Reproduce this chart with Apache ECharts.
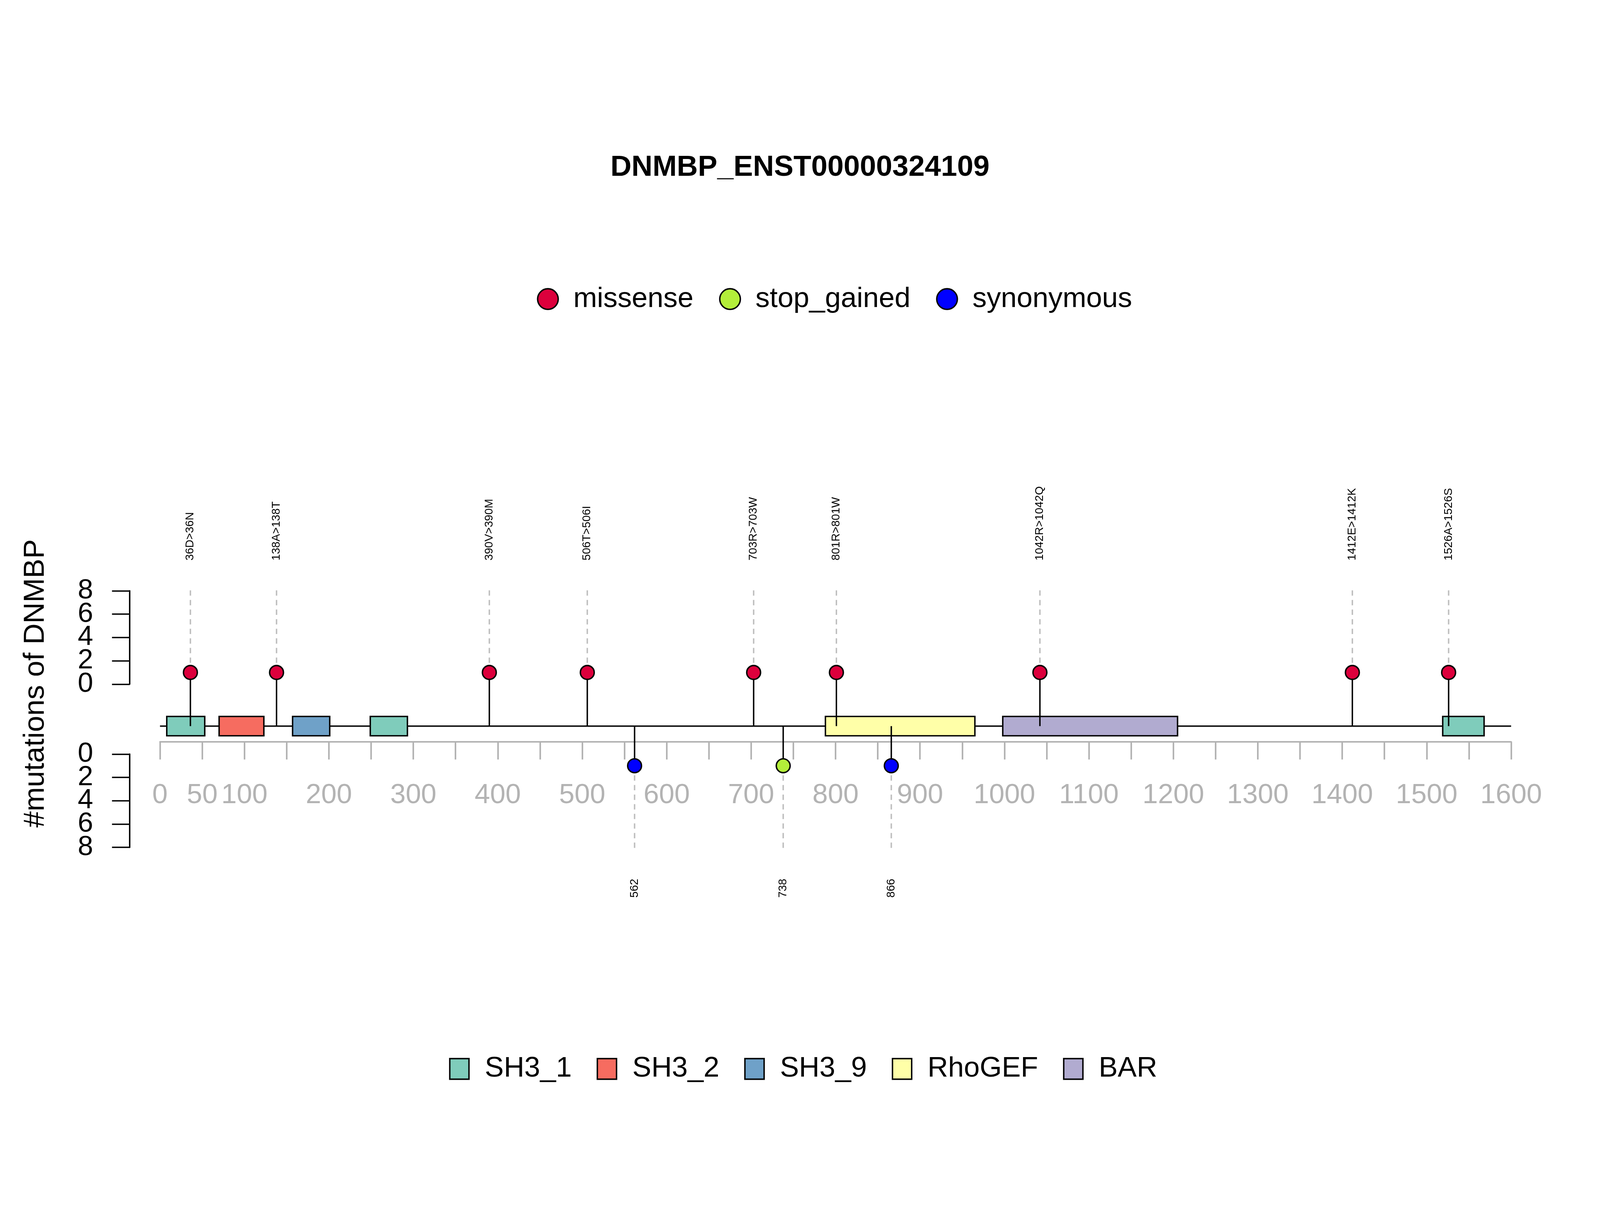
<!DOCTYPE html>
<html lang="en">
<head>
<meta charset="UTF-8">
<title>DNMBP_ENST00000324109</title>
<style>html, body { margin: 0; padding: 0; background: #fff; overflow: hidden; }</style>
</head>
<body>
<div id="main"></div>
<script src="https://cdn.jsdelivr.net/npm/echarts@6.0.0/dist/echarts.min.js"></script>
<script>
// mutations (amino-acid position, type, side of the track, count, label)
var mutPositions = [36, 138, 390, 506, 562, 703, 738, 801, 866, 1042, 1412, 1526];
var mutTypes = ['missense', 'missense', 'missense', 'missense', 'synonymous', 'missense',
    'stop_gained', 'missense', 'synonymous', 'missense', 'missense', 'missense'];
var mutSides = ['top', 'top', 'top', 'top', 'bottom', 'top', 'bottom', 'top', 'bottom', 'top', 'top', 'top'];
var mutCounts = [1, 1, 1, 1, 1, 1, 1, 1, 1, 1, 1, 1];
var mutLabels = ['36D>36N', '138A>138T', '390V>390M', '506T>506I', '562', '703R>703W',
    '738', '801R>801W', '866', '1042R>1042Q', '1412E>1412K', '1526A>1526S'];

// protein domains
var domainNames = ['SH3_1', 'SH3_2', 'SH3_9', 'SH3_1', 'RhoGEF', 'BAR', 'SH3_1'];
var domainStarts = [8, 70, 157, 249, 788, 998, 1519];
var domainEnds = [53, 123, 201, 293, 965, 1205, 1568];
var domainOrder = ['SH3_1', 'SH3_2', 'SH3_9', 'RhoGEF', 'BAR'];
var mutTypeOrder = ['missense', 'stop_gained', 'synonymous'];

// axes
var xMax = 1600;
var xTickLabels = [0, 50, 100, 200, 300, 400, 500, 600, 700, 800, 900, 1000, 1100, 1200, 1300, 1400, 1500, 1600];
var yTickLabels = [0, 2, 4, 6, 8];

var typeColors = { missense: '#DC003C', stop_gained: '#B3EE3A', synonymous: '#0000FF' };
var domainColors = { SH3_1: '#7FCCBB', SH3_2: '#F66C60', SH3_9: '#6FA1C8', RhoGEF: '#FFFFA8', BAR: '#B1ABD0' };

// track layout, in "mutation count" units of the y scale
var BACKBONE = -3.6;
var BOX_HALF = 0.83;
var BOTTOM_ZERO = -6;
var DASH_LEN = 8.3;
var LABEL_TOP = 10.6;
var LABEL_BOTTOM = -17.5;
var Y_MIN = -20, Y_MAX = 12;

// everything below is laid out on a 4500 px wide page, scaled to the real window
var S = window.innerWidth / 4500;
function px(v) { return v * S; }

var UNIT = px(32.8);      // px per count
var ZERO_Y = px(1924);    // pixel row of the upper axis 0
var FONT = 'Liberation Sans';
var LEFT = px(450), WIDTH = px(3800);

var el = document.getElementById('main');
el.style.width = window.innerWidth + 'px';
el.style.height = window.innerHeight + 'px';

function tipOf(i) {
    return mutSides[i] === 'top' ? mutCounts[i] : BOTTOM_ZERO - mutCounts[i];
}

var chart = echarts.init(el);

var series = [];

// backbone
series.push({
    type: 'line', xAxisIndex: 0, yAxisIndex: 0, silent: true, z: 2,
    symbol: 'none',
    lineStyle: { color: '#000', width: px(4) },
    data: [[0, BACKBONE], [xMax, BACKBONE]]
});

// domains
domainOrder.forEach(function (name) {
    var rows = [];
    for (var i = 0; i < domainNames.length; i++) {
        if (domainNames[i] === name) rows.push([domainStarts[i], domainEnds[i]]);
    }
    series.push({
        name: name, type: 'custom', xAxisIndex: 0, yAxisIndex: 0, z: 3,
        itemStyle: { color: domainColors[name], borderColor: '#000', borderWidth: px(4) },
        encode: { x: [0, 1] },
        data: rows,
        renderItem: function (params, api) {
            var p0 = api.coord([api.value(0), BACKBONE + BOX_HALF]);
            var p1 = api.coord([api.value(1), BACKBONE - BOX_HALF]);
            return {
                type: 'rect',
                shape: { x: p0[0], y: p0[1], width: p1[0] - p0[0], height: p1[1] - p0[1] },
                style: { fill: domainColors[name], stroke: '#000', lineWidth: px(4) }
            };
        }
    });
});

// dashed guides and stems
var guideRows = [], stemRows = [];
for (var i = 0; i < mutPositions.length; i++) {
    var tip = tipOf(i);
    var end = mutSides[i] === 'top' ? DASH_LEN : BOTTOM_ZERO - DASH_LEN;
    guideRows.push([mutPositions[i], tip, end]);
    stemRows.push([mutPositions[i], BACKBONE, tip]);
}

function vLine(dash, color, z, rows) {
    return {
        type: 'custom', xAxisIndex: 0, yAxisIndex: 0, z: z, silent: true,
        data: rows,
        renderItem: function (params, api) {
            var a = api.coord([api.value(0), api.value(1)]);
            var b = api.coord([api.value(0), api.value(2)]);
            return {
                type: 'line',
                shape: { x1: a[0], y1: a[1], x2: b[0], y2: b[1] },
                style: { stroke: color, lineWidth: px(4), lineDash: dash }
            };
        }
    };
}
series.push(vLine([px(15), px(12)], '#BEBEBE', 4, guideRows));
series.push(vLine(null, '#000', 5, stemRows));

// lollipop heads
mutTypeOrder.forEach(function (t) {
    var pts = [];
    for (var i = 0; i < mutPositions.length; i++) {
        if (mutTypes[i] === t) pts.push([mutPositions[i], tipOf(i)]);
    }
    series.push({
        name: t, type: 'scatter', xAxisIndex: 0, yAxisIndex: 0, z: 6,
        symbol: 'circle', symbolSize: px(39),
        itemStyle: { color: typeColors[t], borderColor: '#000', borderWidth: px(4), opacity: 1 },
        data: pts
    });
});

// mutation labels
var labelRows = [];
for (var i = 0; i < mutPositions.length; i++) {
    labelRows.push([mutPositions[i], mutSides[i] === 'top' ? LABEL_TOP : LABEL_BOTTOM, i]);
}
series.push({
    type: 'custom', xAxisIndex: 0, yAxisIndex: 0, z: 6, silent: true,
    data: labelRows,
    renderItem: function (params, api) {
        var i = api.value(2);
        var p = api.coord([api.value(0), api.value(1)]);
        return {
            type: 'text', x: p[0], y: p[1], rotation: Math.PI / 2,
            style: {
                text: mutLabels[i], fontSize: px(32), fontFamily: FONT, fill: '#000',
                align: mutSides[i] === 'top' ? 'left' : 'center', verticalAlign: 'middle'
            }
        };
    }
});

// count-axis tick labels (the R plot lets them touch, so draw them without overlap hiding)
[2, 3].forEach(function (g) {
    series.push({
        type: 'custom', xAxisIndex: g, yAxisIndex: g, z: 6, silent: true,
        data: yTickLabels.map(function (v) { return [0, v]; }),
        renderItem: function (params, api) {
            var p = api.coord([0, api.value(1)]);
            return {
                type: 'text', x: p[0] - px(103), y: p[1],
                style: {
                    text: String(api.value(1)), fontSize: px(78), fontFamily: FONT, fill: '#000',
                    align: 'right', verticalAlign: 'middle'
                }
            };
        }
    });
});

var labelSet = {};
xTickLabels.forEach(function (v) { labelSet[v] = true; });

function countAxis(gridIndex, inverse) {
    return {
        gridIndex: gridIndex, type: 'value', min: 0, max: 8, interval: 2, inverse: inverse,
        axisLine: { show: true, lineStyle: { color: '#000', width: px(4) } },
        axisTick: {
            show: true, inside: false, length: px(50), customValues: yTickLabels,
            lineStyle: { color: '#000', width: px(4) }
        },
        axisLabel: { show: false },
        splitLine: { show: false }
    };
}

chart.setOption({
    animation: false,
    backgroundColor: '#fff',
    textStyle: { fontFamily: FONT },
    title: {
        text: 'DNMBP_ENST00000324109',
        left: 'center', top: px(425),
        textStyle: { fontSize: px(82), fontWeight: 'bold', color: '#000', fontFamily: FONT, lineHeight: px(82) }
    },
    legend: [{
        data: mutTypeOrder,
        left: px(1510), top: px(801), padding: 0,
        icon: 'circle', itemWidth: px(58), itemHeight: px(58), itemGap: px(72),
        selectedMode: false,
        itemStyle: { borderColor: '#000', borderWidth: px(4) },
        textStyle: { fontSize: px(80), color: '#000', fontFamily: FONT, padding: [0, 0, 0, px(37)] }
    }, {
        data: domainOrder,
        left: px(1263), top: px(2966), padding: 0,
        icon: 'rect', itemWidth: px(54), itemHeight: px(58), itemGap: px(70),
        selectedMode: false,
        itemStyle: { borderColor: '#000', borderWidth: px(4) },
        textStyle: { fontSize: px(80), color: '#000', fontFamily: FONT, padding: [0, 0, 0, px(39)] }
    }],
    graphic: [{
        type: 'text', x: px(100), y: px(1922), rotation: Math.PI / 2,
        style: {
            text: '#mutations of DNMBP', fontSize: px(82), fontFamily: FONT, fill: '#000',
            align: 'center', verticalAlign: 'middle'
        }
    }],
    grid: [
        { left: LEFT, width: WIDTH, top: ZERO_Y - Y_MAX * UNIT, height: (Y_MAX - Y_MIN) * UNIT },
        { left: LEFT, width: WIDTH, top: px(2085), height: px(1) },
        { left: px(365), width: px(80), top: ZERO_Y - 8 * UNIT, height: 8 * UNIT },
        { left: px(365), width: px(80), top: ZERO_Y - BOTTOM_ZERO * UNIT, height: 8 * UNIT }
    ],
    xAxis: [
        { gridIndex: 0, type: 'value', min: 0, max: xMax, show: false },
        {
            gridIndex: 1, type: 'value', min: 0, max: xMax, interval: 50, position: 'bottom',
            axisLine: { show: true, lineStyle: { color: '#B3B3B3', width: px(4.5) } },
            axisTick: { show: true, inside: false, length: px(50), lineStyle: { color: '#B3B3B3', width: px(4.5) } },
            axisLabel: {
                color: '#B3B3B3', fontSize: px(78), fontFamily: FONT, margin: px(112),
                showMinLabel: true, showMaxLabel: true, hideOverlap: false,
                formatter: function (v) { return labelSet[v] ? String(v) : ''; }
            },
            splitLine: { show: false }
        },
        { gridIndex: 2, type: 'value', min: 0, max: 1, show: false },
        { gridIndex: 3, type: 'value', min: 0, max: 1, show: false }
    ],
    yAxis: [
        { gridIndex: 0, type: 'value', min: Y_MIN, max: Y_MAX, show: false },
        { gridIndex: 1, type: 'value', min: 0, max: 1, show: false },
        countAxis(2, false),
        countAxis(3, true)
    ],
    series: series
});
</script>
</body>
</html>
